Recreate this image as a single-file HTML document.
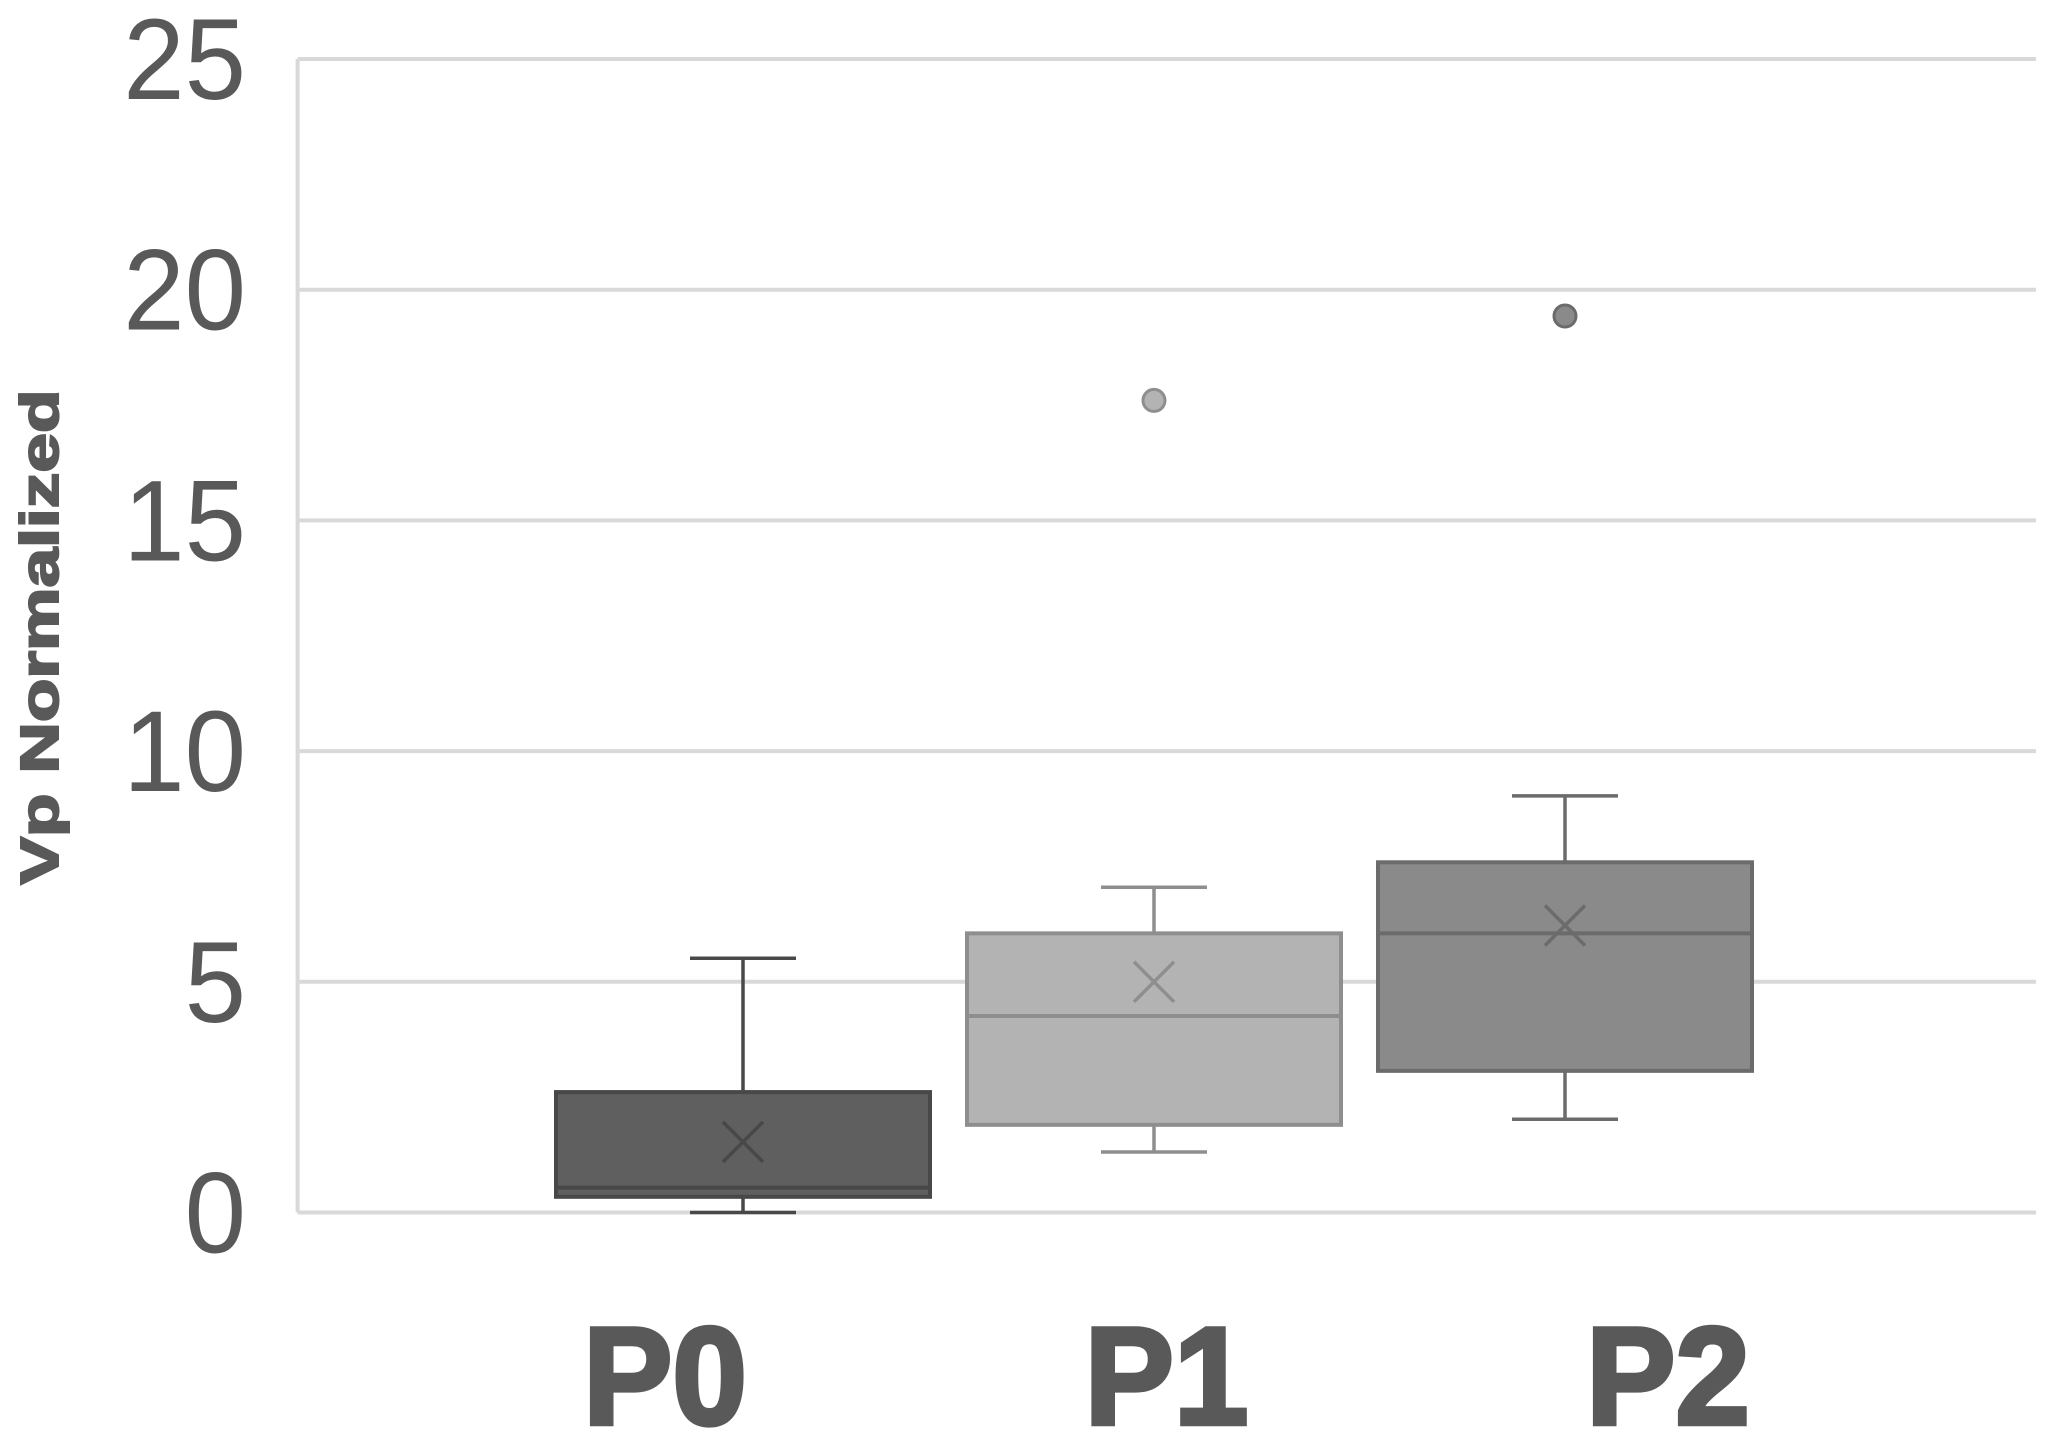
<!DOCTYPE html>
<html><head><meta charset="utf-8"><style>
html,body{margin:0;padding:0;background:#fff;}
svg{display:block;font-family:"Liberation Sans",sans-serif;}
</style></head><body>
<svg id="chart" width="2055" height="1442" viewBox="0 0 2055 1442" xmlns="http://www.w3.org/2000/svg">
<g id="grid"></g>
<g id="yticks"></g>
<text x="0" y="0" transform="translate(58,637) rotate(-90)" text-anchor="middle" font-size="54" font-weight="bold" fill="#595959" textLength="495" lengthAdjust="spacingAndGlyphs" stroke="#595959" stroke-width="2">Vp Normalized</text>
<g id="boxes"></g>
<g id="xlabels"></g>
</svg>
<script>
const categories = ["P0","P1","P2"];
const maxV = [5.51, 7.05, 9.03];
const q3V = [2.61, 6.05, 7.59];
const medV = [0.54, 4.26, 6.05];
const q1V = [0.34, 1.9, 3.07];
const minV = [0, 1.31, 2.02];
const meanV = [1.53, 5.0, 6.22];
const outliers = [[], [17.6], [19.43]];
const yTicks = [0,5,10,15,20,25];

const NS="http://www.w3.org/2000/svg";
const plotL=297.6, plotR=2036, y0=1212.5, yTop=59, yMax=25;
const y = v => y0 - (v/yMax)*(y0-yTop);
const bandW=(1565-743)/2;
const xc = i => 743 + i*bandW;
const fills=["#5f5f5f","#b3b3b3","#8a8a8a"];
const strokes=["#484848","#8e8e8e","#6b6b6b"];
const boxW=374, capW=106;
function mk(tag, attrs, parent){const e=document.createElementNS(NS,tag);for(const k in attrs)e.setAttribute(k,attrs[k]);parent.appendChild(e);return e;}
const grid=document.getElementById('grid'), yt=document.getElementById('yticks'), bx=document.getElementById('boxes'), xl=document.getElementById('xlabels');
yTicks.forEach(t=>{
  const l=mk('line',{x1:plotL,x2:plotR,y1:y(t),y2:y(t),stroke:'#d9d9d9','stroke-width':4},grid);
  
  
  const tx=mk('text',{x:0,y:0,'text-anchor':'end','font-size':96,fill:'#595959',transform:`translate(246,${y(t)+40}) scale(1.15,1.2)`},yt);
  tx.textContent=t;
  
  
});
mk('line',{x1:plotL,x2:plotL,y1:yTop,y2:y0,stroke:'#d9d9d9','stroke-width':4},grid);
categories.forEach((c,i)=>{
  const g=mk('g',{},bx);
  
  
  const cx=xc(i), s=strokes[i];
  mk('line',{x1:cx,x2:cx,y1:y(maxV[i]),y2:y(q3V[i]),stroke:s,'stroke-width':3.5},g);
  mk('line',{x1:cx,x2:cx,y1:y(q1V[i]),y2:y(minV[i]),stroke:s,'stroke-width':3.5},g);
  mk('line',{x1:cx-capW/2,x2:cx+capW/2,y1:y(maxV[i]),y2:y(maxV[i]),stroke:s,'stroke-width':3.5},g);
  mk('line',{x1:cx-capW/2,x2:cx+capW/2,y1:y(minV[i]),y2:y(minV[i]),stroke:s,'stroke-width':3.5},g);
  mk('rect',{x:cx-boxW/2,y:y(q3V[i]),width:boxW,height:y(q1V[i])-y(q3V[i]),fill:fills[i],stroke:s,'stroke-width':4},g);
  mk('line',{x1:cx-boxW/2,x2:cx+boxW/2,y1:y(medV[i]),y2:y(medV[i]),stroke:s,'stroke-width':4},g);
  const my=y(meanV[i]), d=20;
  mk('path',{d:`M${cx-d},${my-d}L${cx+d},${my+d}M${cx-d},${my+d}L${cx+d},${my-d}`,stroke:s,'stroke-width':3.5,fill:'none'},g);
  outliers[i].forEach(o=>{
    const p=mk('circle',{cx:cx,cy:y(o),r:11,fill:fills[i],stroke:s,'stroke-width':3},g);
    
    
  });
  const lx = 665 + i*501.5;
  const t=mk('text',{x:0,y:0,'text-anchor':'middle','font-size':124,'font-weight':'bold',fill:'#595959',stroke:'#595959','stroke-width':4,transform:`translate(${lx},1424) scale(1.08,1.12)`},xl);
  t.textContent=c;
  
  
});
</script>
</body></html>
